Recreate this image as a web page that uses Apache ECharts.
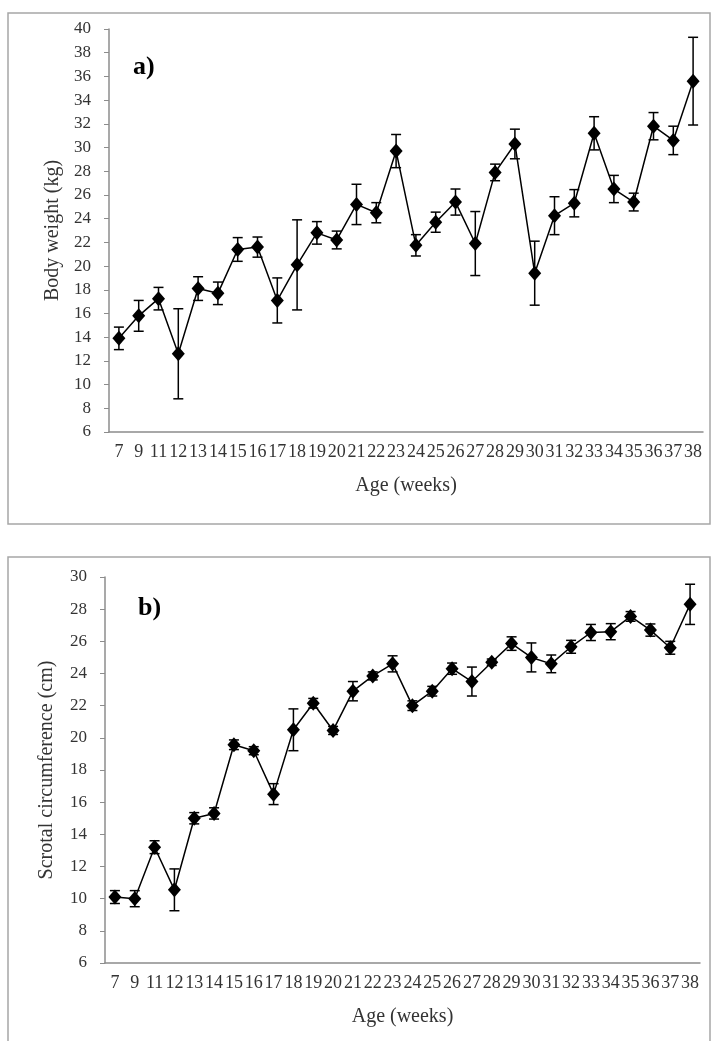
<!DOCTYPE html>
<html>
<head>
<meta charset="utf-8">
<script src="https://cdn.jsdelivr.net/npm/echarts@6/dist/echarts.min.js"></script>
<style>
  html, body { margin: 0; padding: 0; background: #fff; }
  #chart { width: 711px; height: 1041px; }
</style>
</head>
<body>
<div id="chart"></div>
<script>
const ages = ['7', '9', '11', '12', '13', '14', '15', '16', '17', '18', '19', '20', '21', '22', '23',
  '24', '25', '26', '27', '28', '29', '30', '31', '32', '33', '34', '35', '36', '37', '38'];

// a) body weight (kg), mean and error
const weightMean = [13.9, 15.8, 17.25, 12.6, 18.1, 17.7, 21.4, 21.6, 17.1, 20.1, 22.8, 22.2, 25.2, 24.5, 29.7,
  21.75, 23.7, 25.4, 21.9, 27.9, 30.3, 19.4, 24.25, 25.3, 31.2, 26.5, 25.4, 31.8, 30.6, 35.6];
const weightErr = [0.95, 1.3, 0.95, 3.8, 1.0, 0.95, 1.0, 0.85, 1.9, 3.8, 0.95, 0.75, 1.7, 0.85, 1.4,
  0.9, 0.85, 1.1, 2.7, 0.7, 1.25, 2.7, 1.6, 1.15, 1.4, 1.15, 0.75, 1.15, 1.2, 3.7];

// b) scrotal circumference (cm), mean and error
const scrotalMean = [10.1, 10.0, 13.2, 10.55, 15.0, 15.3, 19.57, 19.2, 16.5, 20.5, 22.15, 20.46, 22.9, 23.85, 24.6,
  22.0, 22.9, 24.3, 23.5, 24.7, 25.86, 25.0, 24.6, 25.66, 26.55, 26.6, 27.55, 26.7, 25.6, 28.3];
const scrotalErr = [0.4, 0.5, 0.4, 1.3, 0.35, 0.35, 0.3, 0.25, 0.65, 1.3, 0.3, 0.25, 0.6, 0.25, 0.5,
  0.3, 0.3, 0.35, 0.9, 0.2, 0.42, 0.9, 0.55, 0.4, 0.5, 0.5, 0.3, 0.38, 0.4, 1.25];

const FONT = "'Liberation Serif', 'DejaVu Serif', serif";
const TEXT = '#333';
const AXIS = '#8c8c8c';

function errorRange(mean, err) {
  return mean.map((m, i) => [i, m - err[i], m + err[i]]);
}

function renderErrorBar(params, api) {
  const i = api.value(0);
  const lo = api.coord([i, api.value(1)]);
  const hi = api.coord([i, api.value(2)]);
  const w = 5;
  const style = { stroke: '#000', lineWidth: 1.5 };
  return {
    type: 'group',
    children: [
      { type: 'line', shape: { x1: lo[0], y1: lo[1], x2: hi[0], y2: hi[1] }, style },
      { type: 'line', shape: { x1: lo[0] - w, y1: lo[1], x2: lo[0] + w, y2: lo[1] }, style },
      { type: 'line', shape: { x1: hi[0] - w, y1: hi[1], x2: hi[0] + w, y2: hi[1] }, style }
    ]
  };
}

function xAxisFor(gridIndex) {
  return {
    type: 'category',
    gridIndex,
    data: ages,
    boundaryGap: true,
    name: 'Age (weeks)',
    nameLocation: 'middle',
    nameGap: 44,
    nameTextStyle: { fontFamily: FONT, fontSize: 20, color: TEXT },
    axisLine: { lineStyle: { color: AXIS, width: 1.5 } },
    axisTick: { length: 5, lineStyle: { color: AXIS } },
    axisLabel: { interval: 0, margin: 11, fontFamily: FONT, fontSize: 18, color: TEXT },
    splitLine: { show: false }
  };
}

function yAxisFor(gridIndex, name, max, gap) {
  return {
    type: 'value',
    gridIndex,
    min: 6,
    max,
    interval: 2,
    name,
    nameLocation: 'middle',
    nameGap: gap,
    nameTextStyle: { fontFamily: FONT, fontSize: 20, color: TEXT },
    axisLine: { show: true, lineStyle: { color: AXIS, width: 1.5 } },
    axisTick: { show: true, length: 5, lineStyle: { color: AXIS } },
    axisLabel: { margin: 18, fontFamily: FONT, fontSize: 17, color: TEXT },
    splitLine: { show: false }
  };
}

function lineSeries(idx, data) {
  return {
    type: 'line',
    xAxisIndex: idx,
    yAxisIndex: idx,
    data,
    symbol: 'diamond',
    symbolSize: [13, 15],
    itemStyle: { color: '#000' },
    lineStyle: { color: '#000', width: 1.5 },
    z: 3,
    animation: false
  };
}

function errorSeries(idx, mean, err) {
  return {
    type: 'custom',
    xAxisIndex: idx,
    yAxisIndex: idx,
    data: errorRange(mean, err),
    encode: { x: 0, y: [1, 2] },
    renderItem: renderErrorBar,
    z: 2,
    animation: false
  };
}

const chart = echarts.init(document.getElementById('chart'));

chart.setOption({
  backgroundColor: '#fff',
  animation: false,
  grid: [
    { left: 109, top: 29, width: 594, height: 403 },
    { left: 105, top: 577, width: 595, height: 386 }
  ],
  xAxis: [xAxisFor(0), xAxisFor(1)],
  yAxis: [
    yAxisFor(0, 'Body weight (kg)', 40, 46),
    yAxisFor(1, 'Scrotal circumference (cm)', 30, 48)
  ],
  series: [
    errorSeries(0, weightMean, weightErr),
    lineSeries(0, weightMean),
    errorSeries(1, scrotalMean, scrotalErr),
    lineSeries(1, scrotalMean)
  ],
  graphic: [
    { type: 'rect', shape: { x: 8, y: 13, width: 702, height: 511 },
      style: { fill: 'none', stroke: '#a6a6a6', lineWidth: 1.5 }, silent: true },
    { type: 'rect', shape: { x: 8, y: 557, width: 702, height: 495 },
      style: { fill: 'none', stroke: '#a6a6a6', lineWidth: 1.5 }, silent: true },
    { type: 'text', left: 133, top: 54,
      style: { text: 'a)', font: 'bold 26px ' + FONT, fill: '#000' } },
    { type: 'text', left: 138, top: 595,
      style: { text: 'b)', font: 'bold 26px ' + FONT, fill: '#000' } }
  ]
});

window.addEventListener('resize', chart.resize);
</script>
</body>
</html>
